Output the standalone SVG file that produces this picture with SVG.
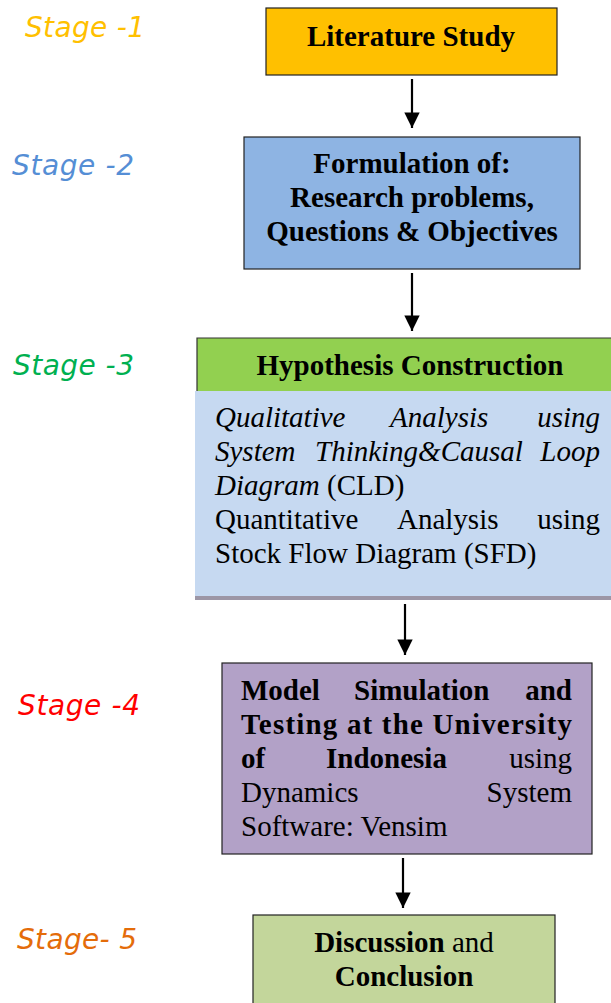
<svg xmlns="http://www.w3.org/2000/svg" width="611" height="1003" viewBox="0 0 611 1003">
<style>
.b{stroke:#222;stroke-width:1.2}
.t{font-family:"Liberation Serif","Times New Roman",serif;font-size:29px;fill:#000}
.bd{font-weight:bold}
.it{font-style:italic}
.stg{font-family:"DejaVu Sans","Liberation Sans",sans-serif;font-style:italic;font-size:28px;font-weight:300}
.c{stroke:#000;stroke-width:2.2;fill:none}
</style>
<defs>
<marker id="ah" viewBox="0 0 10 10" refX="10" refY="5" markerWidth="7.5" markerHeight="7" markerUnits="strokeWidth" orient="auto">
<path d="M0,0 L10,5 L0,10 z" fill="#000"/>
</marker>
</defs>
<rect width="611" height="1003" fill="#fff"/>
<g id="stages">
<text class="stg" x="25" y="37" fill="#FFC000" textLength="120">Stage -1</text>
<text class="stg" x="12" y="175" fill="#558ED5" textLength="122">Stage -2</text>
<text class="stg" x="13" y="375" fill="#00B050" textLength="121">Stage -3</text>
<text class="stg" x="18" y="715" fill="#FF0000" textLength="122">Stage -4</text>
<text class="stg" x="17" y="949" fill="#E46C0A" textLength="120">Stage- 5</text>
</g>
<g id="n1">
<rect class="b" x="266" y="8" width="291" height="67" fill="#FFC000"/>
<text class="t bd" x="411" y="46" text-anchor="middle">Literature Study</text>
</g>
<g id="n2">
<rect class="b" x="244" y="137" width="336" height="132" fill="#8EB4E3"/>
<text class="t bd" x="412" y="173" text-anchor="middle">Formulation of:</text>
<text class="t bd" x="412" y="207" text-anchor="middle">Research problems,</text>
<text class="t bd" x="412" y="241" text-anchor="middle">Questions &amp; Objectives</text>
</g>
<g id="n3">
<rect x="195" y="391" width="416" height="205" fill="#C6D9F1"/>
<rect x="195" y="596" width="416" height="4" fill="#9C96A6"/>
<rect x="197" y="338" width="414" height="53" fill="#92D050"/>
<path d="M197,391 V338 H611" stroke="#333" stroke-width="1.2" fill="none"/>
<text class="t bd" x="410" y="375" text-anchor="middle">Hypothesis Construction</text>
<text class="t it" x="215" y="427">Qualitative</text>
<text class="t it" x="390" y="427">Analysis</text>
<text class="t it" x="600" y="427" text-anchor="end">using</text>
<text class="t it" x="215" y="461">System</text>
<text class="t it" x="315" y="461">Thinking&amp;Causal</text>
<text class="t it" x="600" y="461" text-anchor="end">Loop</text>
<text class="t" x="215" y="495"><tspan class="it">Diagram</tspan> (CLD)</text>
<text class="t" x="215" y="529">Quantitative</text>
<text class="t" x="397" y="529">Analysis</text>
<text class="t" x="600" y="529" text-anchor="end">using</text>
<text class="t" x="215" y="563">Stock Flow Diagram (SFD)</text>
</g>
<g id="n4">
<rect class="b" x="222" y="663" width="370" height="191" fill="#B2A1C7"/>
<text class="t bd" x="241" y="700">Model</text>
<text class="t bd" x="354" y="700">Simulation</text>
<text class="t bd" x="572" y="700" text-anchor="end">and</text>
<text class="t bd" x="241" y="734" textLength="331" lengthAdjust="spacing">Testing at the University</text>
<text class="t bd" x="241" y="768">of</text>
<text class="t bd" x="326" y="768">Indonesia</text>
<text class="t" x="572" y="768" text-anchor="end">using</text>
<text class="t" x="241" y="802">Dynamics</text>
<text class="t" x="572" y="802" text-anchor="end">System</text>
<text class="t" x="241" y="836">Software: Vensim</text>
</g>
<g id="n5">
<rect class="b" x="253" y="915" width="302" height="95" fill="#C3D69B"/>
<text class="t" x="404" y="952" text-anchor="middle"><tspan class="bd">Discussion</tspan> and</text>
<text class="t bd" x="404" y="986" text-anchor="middle">Conclusion</text>
</g>
<g id="connectors">
<line class="c" x1="412" y1="79" x2="412" y2="128" marker-end="url(#ah)"/>
<line class="c" x1="412" y1="273" x2="412" y2="331" marker-end="url(#ah)"/>
<line class="c" x1="405" y1="604" x2="405" y2="655" marker-end="url(#ah)"/>
<line class="c" x1="403" y1="858" x2="403" y2="908" marker-end="url(#ah)"/>
</g>
</svg>
